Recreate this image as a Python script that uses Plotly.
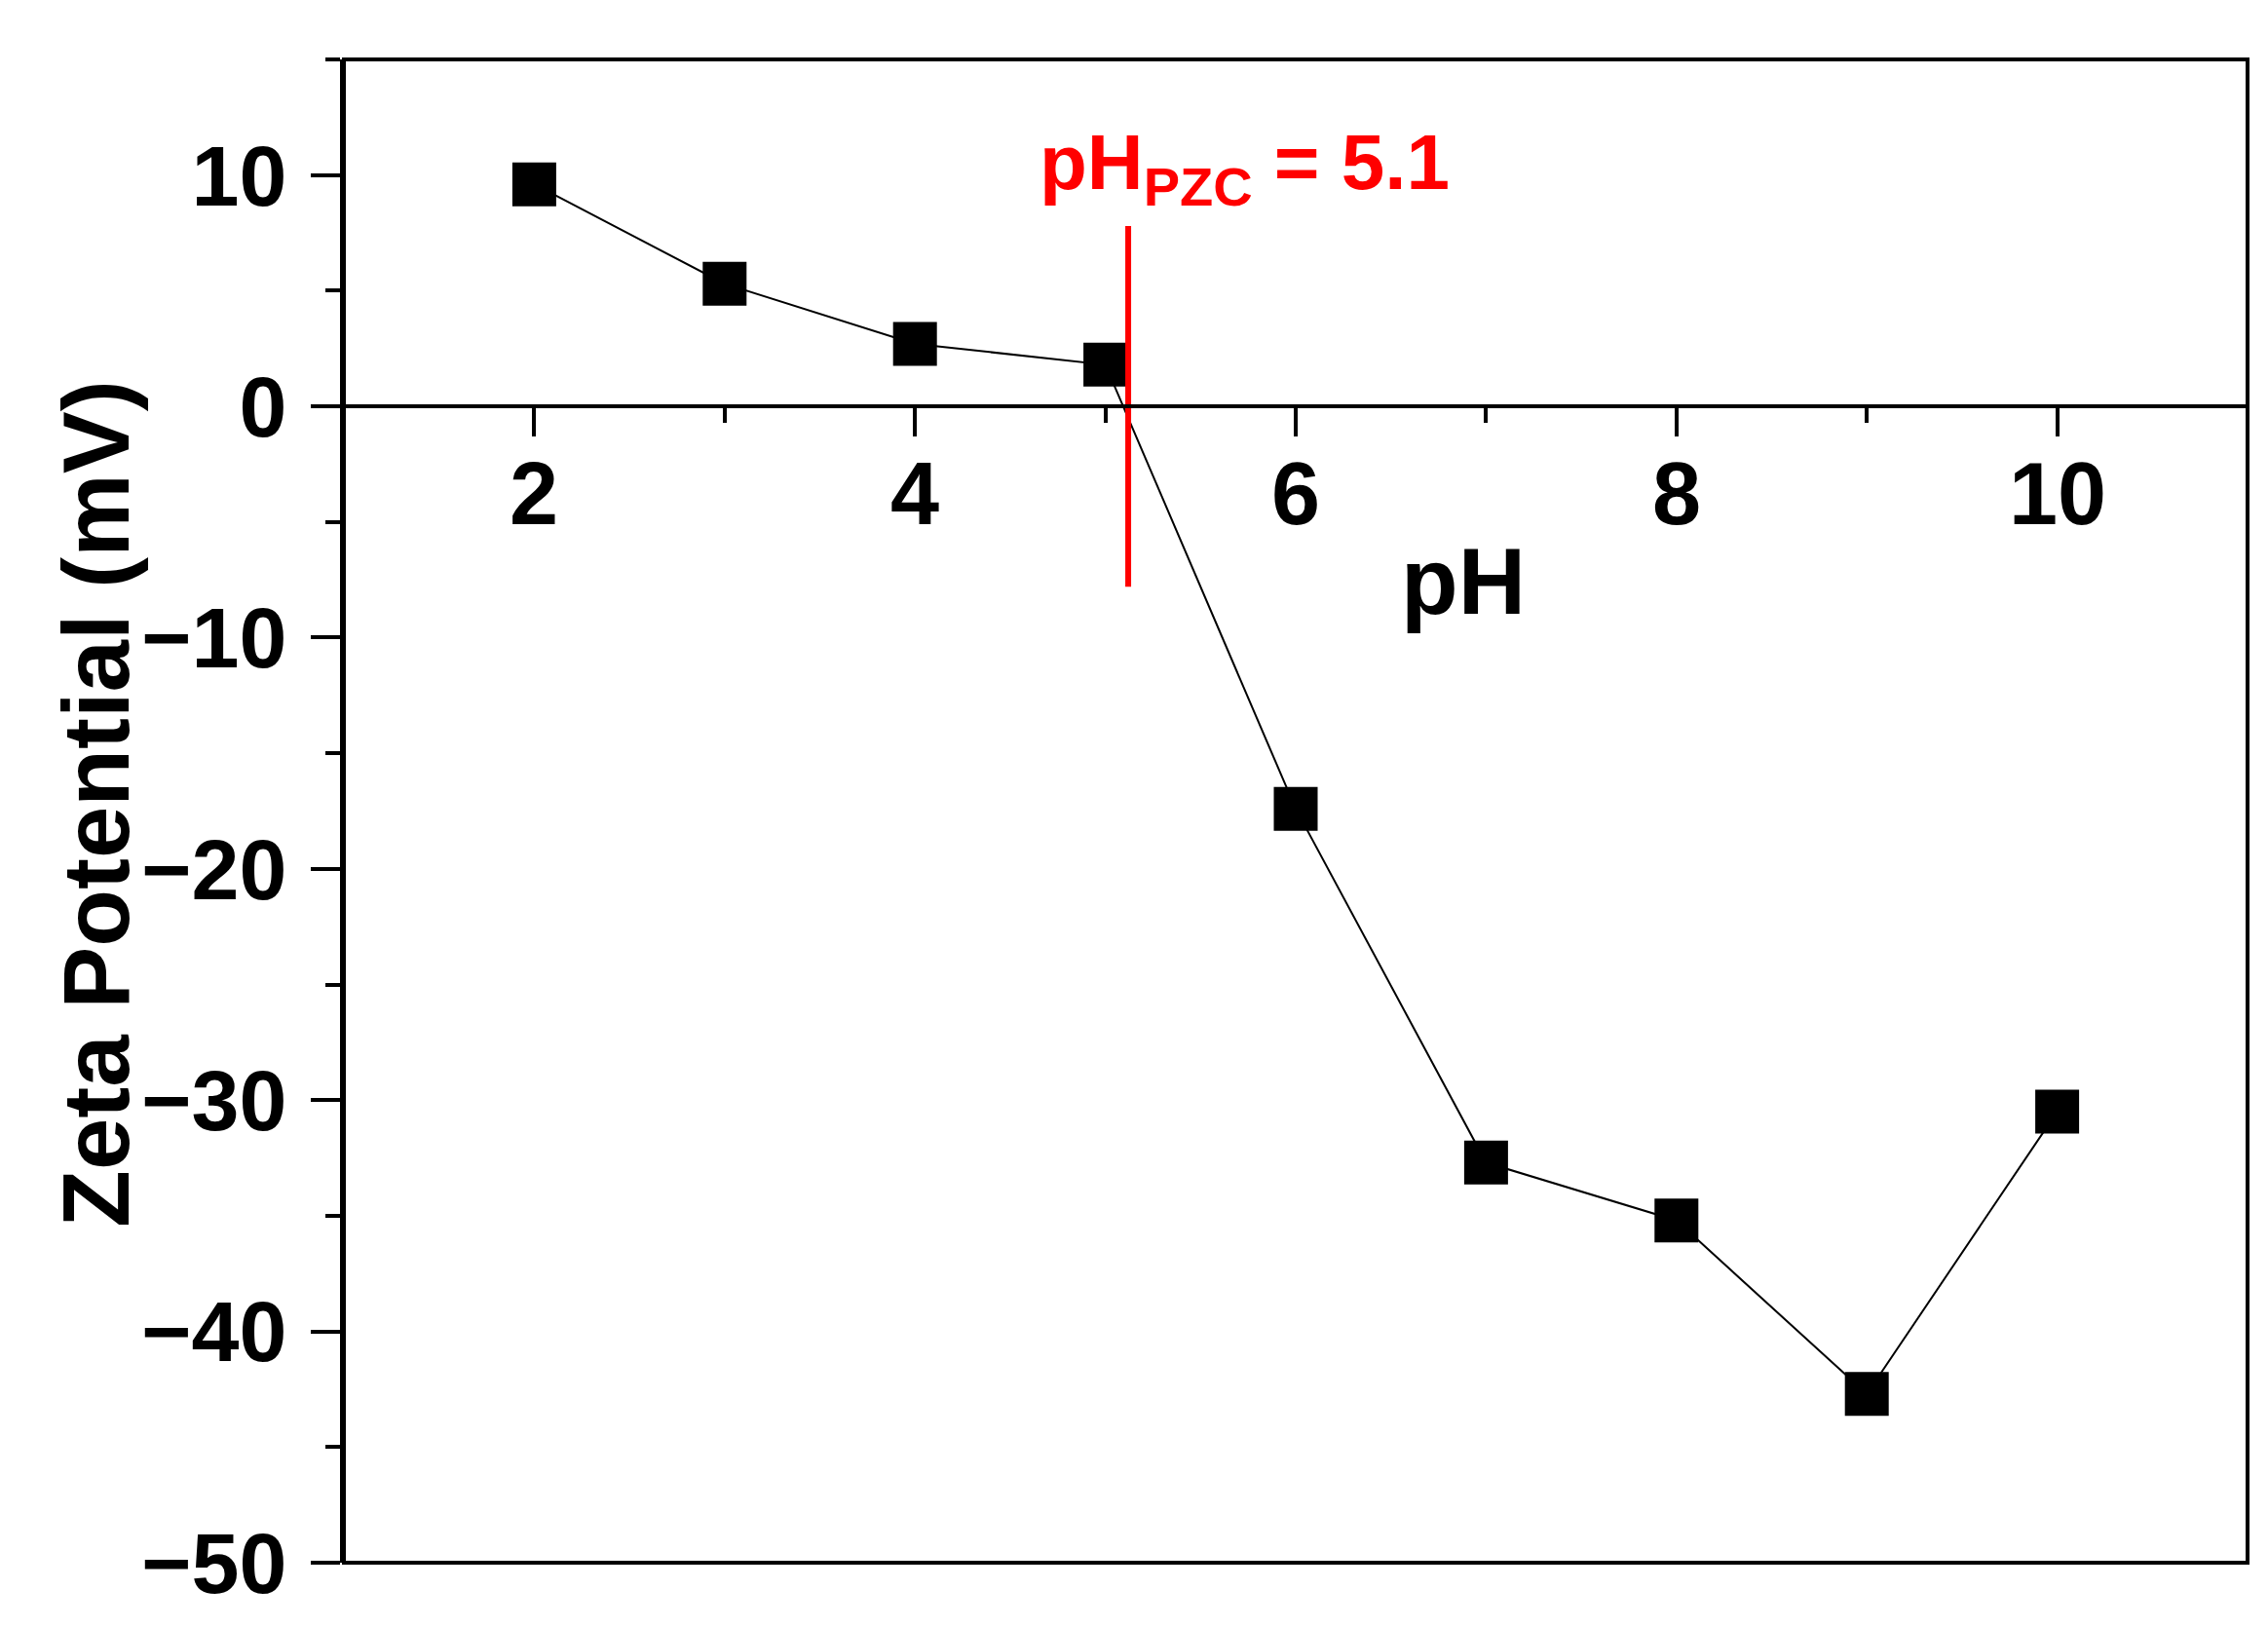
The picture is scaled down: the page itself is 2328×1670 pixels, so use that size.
import plotly.graph_objects as go

# zeta potential vs pH
ph = [2, 3, 4, 5, 6, 7, 8, 9, 10]
zeta = [9.6, 5.3, 2.7, 1.8, -17.4, -32.7, -35.2, -42.7, -30.5]

# x tick labels drawn under the zero line
x_ticks = [2, 4, 6, 8, 10]

# point of zero charge marker
pzc_line_x = [5.12, 5.12]
pzc_line_y = [7.8, -7.8]

x_range = [1, 11]
y_range = [-50, 15]

font_family = "Liberation Sans, Arial, sans-serif"

fig = go.Figure()

fig.add_trace(go.Scatter(
    x=ph, y=zeta, mode="lines+markers",
    line=dict(color="black", width=2),
    marker=dict(symbol="square", size=45, color="black"),
    showlegend=False,
))

fig.add_trace(go.Scatter(
    x=pzc_line_x, y=pzc_line_y, mode="lines",
    line=dict(color="#ff0000", width=6),
    showlegend=False,
))

# x axis sits on the zero line
zero_pos = (0 - y_range[0]) / (y_range[1] - y_range[0])

fig.update_xaxes(
    range=x_range, anchor="free", position=zero_pos,
    showline=True, linecolor="black", linewidth=4,
    ticks="outside", ticklen=29, tickwidth=4, tickcolor="black",
    tickvals=x_ticks, showticklabels=False,
    minor=dict(ticks="outside", dtick=1, tick0=1, ticklen=15, tickwidth=4, tickcolor="black"),
    showgrid=False, zeroline=False,
)

fig.update_yaxes(
    range=y_range,
    showline=True, linecolor="black", linewidth=4,
    ticks="outside", ticklen=30, tickwidth=4, tickcolor="black",
    tick0=-50, dtick=10,
    minor=dict(ticks="outside", dtick=5, tick0=-50, ticklen=15, tickwidth=4, tickcolor="black"),
    tickfont=dict(family=font_family, size=88, color="black", weight="bold"),
    ticklabelstandoff=7,
    showgrid=False, zeroline=False,
)

# tick labels for the x axis, placed below the zero line
for v in x_ticks:
    fig.add_annotation(
        text=str(v), x=v, y=0, xref="x", yref="y", yshift=-90,
        showarrow=False, xanchor="center", yanchor="middle",
        font=dict(family=font_family, size=90, color="black", weight="bold"),
    )

# box frame
fig.add_shape(type="rect", xref="paper", yref="paper", x0=0, x1=1, y0=0, y1=1,
              line=dict(color="black", width=4))

fig.add_annotation(
    text="pH", xref="paper", yref="paper", x=0.588, y=0.653,
    showarrow=False, xanchor="center", yanchor="middle",
    font=dict(family=font_family, size=96, color="black", weight="bold"),
)
fig.add_annotation(
    text="Zeta Potential (mV)", xref="paper", yref="paper", x=-0.130, y=0.505,
    textangle=-90, showarrow=False, xanchor="center", yanchor="middle",
    font=dict(family=font_family, size=96, color="black", weight="bold"),
)
fig.add_annotation(
    text="pH<sub>PZC</sub> = 5.1", xref="paper", yref="paper", x=0.473, y=0.928,
    showarrow=False, xanchor="center", yanchor="middle",
    font=dict(family=font_family, size=80, color="#ff0000", weight="bold"),
)

fig.update_layout(
    width=2328, height=1670,
    margin=dict(l=345, r=29, t=53, b=74),
    plot_bgcolor="white", paper_bgcolor="white",
)

fig.write_html("out.html")
